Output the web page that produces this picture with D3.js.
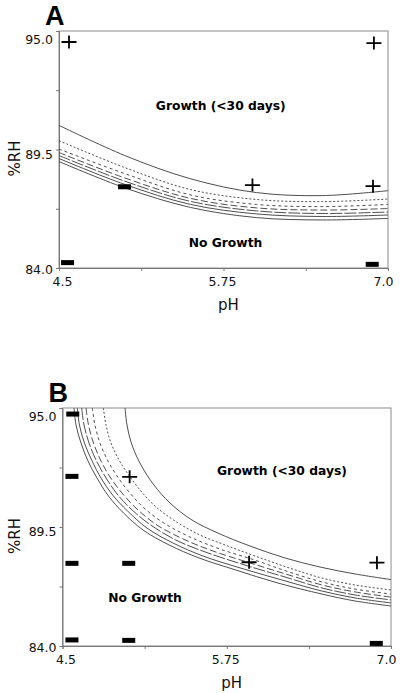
<!DOCTYPE html>
<html><head><meta charset="utf-8">
<script src="https://cdn.jsdelivr.net/npm/d3@7"></script>
<style>body{margin:0;background:#fff}svg{display:block}</style>
</head><body>
<svg id="c" width="400" height="693"></svg>
<script>
// ---------- shared axis data ----------
const xTickValues = [4.5, 5.125, 5.75, 6.375, 7.0];
const xTickLabels = ["4.5", "", "5.75", "", "7.0"];
const yTickValues = [84, 86.75, 89.5, 92.25, 95];
const yTickLabels = ["84.0", "", "89.5", "", "95.0"];
const xTitle = "pH";
const yTitle = "%RH";
const panelLabels = ["A", "B"];
const regionLabels = ["Growth (<30 days)", "No Growth"];

// ---------- panel A ----------
const aCurvePH = [4.5, 5.0, 5.5, 6.0, 6.5, 7.0];
const aCurve1 = [90.62, 89.22, 88.14, 87.50, 87.36, 87.59];
const aCurve2 = [89.91, 88.66, 87.64, 87.18, 87.08, 87.20];
const aCurve3 = [89.52, 88.38, 87.39, 86.95, 86.85, 86.95];
const aCurve4 = [89.36, 88.18, 87.23, 86.79, 86.69, 86.76];
const aCurve5 = [89.22, 88.03, 87.09, 86.65, 86.53, 86.60];
const aCurve6 = [89.08, 87.88, 86.95, 86.51, 86.39, 86.46];
const aCurve7 = [88.94, 87.72, 86.81, 86.34, 86.23, 86.30];
const aPlus  = [[4.576, 94.49], [6.893, 94.44], [5.97, 87.85], [6.886, 87.80]];
const aMinus = [[4.998, 87.77], [4.565, 84.25], [6.88, 84.17]];
const aRegionPos = [[5.729, 91.52], [5.765, 85.18]];

// ---------- panel B ----------
const bCurve1 = [[4.976,95],[4.991,94.21],[5.029,93.29],[5.097,92.37],[5.196,91.44],[5.318,90.61],[5.486,89.82],[5.683,89.22],[5.927,88.62],[6.193,88.07],[6.460,87.65],[6.726,87.33],[7.0,87.07]];
const bCurve2 = [[4.811,95],[4.831,94.21],[4.869,93.38],[4.930,92.60],[4.998,91.95],[5.090,91.21],[5.204,90.47],[5.356,89.78],[5.546,89.13],[5.737,88.67],[5.965,88.16],[6.224,87.61],[6.475,87.14],[6.726,86.82],[7.0,86.59]];
const bCurve3 = [[4.727,95],[4.747,94.21],[4.785,93.38],[4.846,92.55],[4.915,91.86],[5.006,91.12],[5.120,90.38],[5.272,89.68],[5.470,89.04],[5.699,88.48],[5.965,87.97],[6.224,87.42],[6.475,86.96],[6.726,86.63],[7.0,86.40]];
const bCurve4 = [[4.679,95],[4.698,94.21],[4.736,93.38],[4.793,92.55],[4.862,91.81],[4.953,91.07],[5.067,90.33],[5.219,89.59],[5.417,88.95],[5.645,88.39],[5.927,87.84],[6.224,87.28],[6.475,86.82],[6.726,86.50],[7.0,86.26]];
const bCurve5 = [[4.646,95],[4.664,94.21],[4.702,93.38],[4.759,92.55],[4.827,91.81],[4.915,91.03],[5.029,90.29],[5.181,89.55],[5.379,88.85],[5.607,88.30],[5.889,87.74],[6.193,87.19],[6.475,86.68],[6.726,86.36],[7.0,86.13]];
const bCurve6 = [[4.613,95],[4.629,94.21],[4.667,93.38],[4.725,92.55],[4.793,91.76],[4.881,90.98],[4.995,90.24],[5.143,89.45],[5.341,88.76],[5.569,88.16],[5.851,87.61],[6.170,87.05],[6.475,86.54],[6.726,86.22],[7.0,85.99]];
const bCurve7 = [[4.588,95],[4.603,94.21],[4.641,93.38],[4.694,92.55],[4.763,91.76],[4.850,90.93],[4.964,90.15],[5.113,89.36],[5.311,88.67],[5.539,88.07],[5.820,87.51],[6.140,86.91],[6.475,86.40],[6.726,86.08],[7.0,85.85]];
const bPlus  = [[5.011, 91.82], [5.92, 87.87], [6.893, 87.85]];
const bMinus = [[4.578,94.72],[4.572,91.84],[4.572,87.82],[5.004,87.82],[4.572,84.28],[5.004,84.26],[6.888,84.12]];
const bRegionPos = [[6.170, 92.09], [5.128, 86.22]];

// line styles for the 7 boundary curves
const dashes = [null, "2,2", "3,3", "7,3", "12,2", null, null];

// ---------- drawing ----------
const svg = d3.select("#c");
const FONT = "'DejaVu Sans', Verdana, sans-serif";

const aCurves = [aCurve1,aCurve2,aCurve3,aCurve4,aCurve5,aCurve6,aCurve7]
  .map(arr => arr.map((v,i) => [aCurvePH[i], v]));
const bCurves = [bCurve1,bCurve2,bCurve3,bCurve4,bCurve5,bCurve6,bCurve7];

const panels = [
  {label: panelLabels[0], left: 59, top: 31, w: 329, h: 237, curves: aCurves, plus: aPlus, minus: aMinus, regions: aRegionPos},
  {label: panelLabels[1], left: 62.5, top: 408, w: 328.5, h: 238, curves: bCurves, plus: bPlus, minus: bMinus, regions: bRegionPos}
];

panels.forEach(p => {
  const g = svg.append("g").attr("transform", `translate(${p.left},${p.top})`);
  const x = d3.scaleLinear().domain([4.5, 7.0]).range([0, p.w]);
  const y = d3.scaleLinear().domain([84, 95]).range([p.h, 0]);

  // frame
  g.append("rect").attr("x",0).attr("y",0).attr("width",p.w).attr("height",p.h)
    .attr("fill","none").attr("stroke","#8c8c8c").attr("stroke-width",1);

  // axes
  const xAxis = d3.axisBottom(x).tickValues(xTickValues).tickSize(3)
    .tickFormat((d,i) => xTickLabels[i]);
  const yAxis = d3.axisLeft(y).tickValues(yTickValues).tickSize(3)
    .tickFormat((d,i) => yTickLabels[i]);
  const gx = g.append("g").attr("transform", `translate(0,${p.h})`).call(xAxis);
  const gy = g.append("g").call(yAxis);
  [gx, gy].forEach(ax => {
    ax.select(".domain").attr("stroke","#777");
    ax.selectAll(".tick line").attr("stroke","#777");
    ax.selectAll(".tick text").attr("font-family",FONT).attr("font-size","12.5px").attr("fill","#111");
  });
  gx.selectAll(".tick text").attr("y", 9.5)
    .attr("dx", (d,i) => i === 0 ? 3 : (i === xTickValues.length-1 ? -5 : -1.5));
  gy.selectAll(".tick text").attr("x", -6)
    .attr("dy", d => (0.32 + (1.5 + (d-84)/11*6.5)/12.5) + "em");

  // axis titles
  g.append("text").text(xTitle).attr("x", p.w/2 + 5).attr("y", p.h + 42)
    .attr("text-anchor","middle").attr("font-family",FONT).attr("font-size","15px").attr("fill","#111");
  g.append("text").text(yTitle)
    .attr("transform", `translate(${14.5 - p.left + 5.5},${p.h/2 + 9}) rotate(-90)`)
    .attr("text-anchor","middle").attr("font-family",FONT).attr("font-size","15px").attr("fill","#111");

  // panel letter
  g.append("text").text(p.label).attr("x", -14).attr("y", -6)
    .attr("font-family","'Liberation Sans', Arial, sans-serif").attr("font-weight","bold")
    .attr("font-size","27px").attr("fill","#000");

  // curves
  const line = d3.line().x(d => x(d[0])).y(d => y(d[1])).curve(d3.curveCatmullRom);
  g.append("g").selectAll("path").data(p.curves).join("path")
    .attr("d", line).attr("fill","none").attr("stroke","#3a3a3a").attr("stroke-width",0.9)
    .attr("stroke-dasharray", (d,i) => dashes[i]);

  // region labels
  g.append("g").selectAll("text").data(p.regions).join("text")
    .attr("x", d => x(d[0])).attr("y", d => y(d[1])).attr("dy","0.36em")
    .attr("text-anchor","middle").attr("font-family",FONT).attr("font-weight","bold")
    .attr("font-size","12.3px").attr("fill","#000")
    .text((d,i) => regionLabels[i]);

  // markers
  g.append("g").selectAll("path").data(p.plus).join("path")
    .attr("d", d => `M${x(d[0])-7.5},${y(d[1])}H${x(d[0])+7.5}M${x(d[0])},${y(d[1])-6.5}V${y(d[1])+6.5}`)
    .attr("stroke","#000").attr("stroke-width",1.8).attr("fill","none");
  g.append("g").selectAll("rect").data(p.minus).join("rect")
    .attr("x", d => x(d[0]) - 6.5).attr("y", d => y(d[1]) - 2.5)
    .attr("width", 13).attr("height", 5).attr("fill","#000");
});
</script>
</body></html>
